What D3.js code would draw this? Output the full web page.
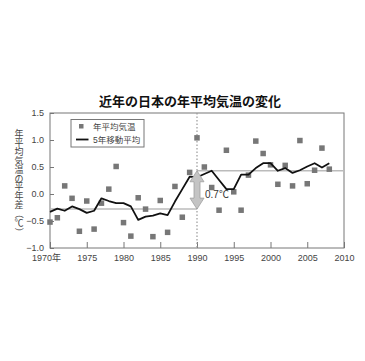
<!DOCTYPE html>
<html>
<head>
<meta charset="utf-8">
<script src="https://cdn.jsdelivr.net/npm/d3@7"></script>
<style>
  body { margin: 0; background: #fff; }
  svg text { font-family: "Liberation Sans", "Noto Sans CJK JP", sans-serif; }
</style>
</head>
<body>
<div id="chart"></div>
<script>
// Annual mean temperature anomaly (degC)
var years = d3.range(1970, 2009)
var anomaly = [-0.52, -0.44, 0.15, -0.08, -0.69, -0.13, -0.65, -0.17, 0.09, 0.51,
  -0.53, -0.78, -0.07, -0.28, -0.79, -0.12, -0.71, 0.14, -0.43, 0.40,
  1.04, 0.50, 0.12, -0.30, 0.81, 0.04, -0.30, 0.35, 0.98, 0.75,
  0.54, 0.18, 0.53, 0.15, 0.99, 0.19, 0.44, 0.85, 0.46]
// 5-year moving average
var movingAvg = [-0.33, -0.27, -0.31, -0.23, -0.28, -0.35, -0.31, -0.08, -0.13, -0.17,
  -0.17, -0.23, -0.48, -0.42, -0.40, -0.36, -0.39, -0.14, 0.09, 0.32,
  0.31, 0.37, 0.43, 0.26, 0.09, 0.09, 0.36, 0.36, 0.48, 0.57,
  0.57, 0.43, 0.48, 0.39, 0.44, 0.51, 0.57, 0.49, 0.57]
// period means before / after 1990
var periodStart = [1970, 1990]
var periodEnd = [1990, 2010]
var periodMean = [-0.28, 0.43]
var splitYear = 1990
var diffLabel = '0.7℃'

var xTicks = d3.range(1970, 2011, 5)
var yTicks = [-1.0, -0.5, 0.0, 0.5, 1.0, 1.5]
var legendLabels = ['年平均気温', '5年移動平均']
var yTitle = '年平均気温の平年差（℃）'

var W = 365, H = 361
var svg = d3.select('#chart').append('svg')
    .attr('width', W)
    .attr('height', H)

var x = d3.scaleLinear().domain([1970, 2010]).range([50, 344])
var y = d3.scaleLinear().domain([-1.0, 1.5]).range([248, 113])

// Title
svg.append('text')
    .attr('x', 190)
    .attr('y', 106)
    .attr('text-anchor', 'middle')
    .attr('font-size', '13px')
    .attr('font-weight', 'bold')
    .attr('fill', '#111')
    .text('近年の日本の年平均気温の変化')

// Y title, stacked vertically one character at a time
var step = 8.9
Array.from(yTitle).forEach(function(c, i){
  var cy = 134 + i * step
  var t = svg.append('text')
      .attr('x', 19)
      .attr('y', cy)
      .attr('text-anchor', 'middle')
      .attr('dominant-baseline', 'central')
      .attr('font-size', '9px')
      .attr('fill', '#444')
      .text(c)
  if (c == '（' || c == '）') t.attr('transform', 'rotate(90,19,' + cy + ')')
})

// Axes
var yAxis = svg.append('g')
    .attr('transform', 'translate(' + x(1970) + ',0)')
    .call(d3.axisLeft(y).tickValues(yTicks).tickSize(-4).tickPadding(6).tickFormat(d3.format('.1f')))
var xAxis = svg.append('g')
    .attr('transform', 'translate(0,' + y(-1.0) + ')')
    .call(d3.axisBottom(x).tickValues(xTicks).tickSize(-6).tickPadding(7)
      .tickFormat(function(d){ return d == 1970 ? d + '年' : d }))
;[xAxis, yAxis].forEach(function(a){
  a.select('.domain').remove()
  a.selectAll('line').attr('stroke', '#777')
  a.selectAll('text')
      .attr('font-size', '9px')
      .attr('fill', '#444')
      .attr('font-family', null)
})
xAxis.selectAll('text').filter(function(d){ return d == 1970 }).attr('dx', -4)

// Frame
svg.append('rect')
    .attr('x', x(1970))
    .attr('y', y(1.5))
    .attr('width', x(2010) - x(1970))
    .attr('height', y(-1.0) - y(1.5))
    .attr('fill', 'none')
    .attr('stroke', '#777')

// Period mean lines
periodMean.forEach(function(m, i){
  svg.append('line')
      .attr('x1', x(periodStart[i]))
      .attr('x2', x(periodEnd[i]))
      .attr('y1', y(m))
      .attr('y2', y(m))
      .attr('stroke', '#bbb')
      .attr('stroke-width', 1.5)
})

// Dotted line at 1990
svg.append('line')
    .attr('x1', x(splitYear))
    .attr('x2', x(splitYear))
    .attr('y1', y(1.5))
    .attr('y2', y(-1.0))
    .attr('stroke', '#999')
    .attr('stroke-width', 1.2)
    .attr('stroke-dasharray', '1.5,2')

// Points
var sq = 5.5
svg.selectAll('rect.pt')
    .data(years)
  .enter().append('rect')
    .attr('class', 'pt')
    .attr('x', function(d){ return x(d) - sq / 2 })
    .attr('y', function(d, i){ return y(anomaly[i]) - sq / 2 })
    .attr('width', sq)
    .attr('height', sq)
    .attr('fill', '#777')

// Moving average line
var line = d3.line()
    .x(function(d){ return x(d) })
    .y(function(d, i){ return y(movingAvg[i]) })
svg.append('path')
    .datum(years)
    .attr('d', line)
    .attr('fill', 'none')
    .attr('stroke', '#111')
    .attr('stroke-width', 1.8)
    .attr('stroke-linejoin', 'round')

// Double arrow between the two period means
var ax = x(splitYear), aTop = y(periodMean[1]), aBot = y(periodMean[0])
var hw = 7, hl = 11, sw = 3
svg.append('path')
    .attr('d', 'M' + ax + ',' + aTop +
      'L' + (ax + hw) + ',' + (aTop + hl) + 'L' + (ax + sw) + ',' + (aTop + hl) +
      'L' + (ax + sw) + ',' + (aBot - hl) + 'L' + (ax + hw) + ',' + (aBot - hl) +
      'L' + ax + ',' + aBot +
      'L' + (ax - hw) + ',' + (aBot - hl) + 'L' + (ax - sw) + ',' + (aBot - hl) +
      'L' + (ax - sw) + ',' + (aTop + hl) + 'L' + (ax - hw) + ',' + (aTop + hl) + 'Z')
    .attr('fill', '#c4c4c4')
    .attr('stroke', '#a0a0a0')
    .attr('stroke-width', 0.8)
svg.append('text')
    .attr('x', ax + 8)
    .attr('y', (aTop + aBot) / 2 + 8)
    .attr('font-size', '10px')
    .attr('fill', '#333')
    .text(diffLabel)

// Legend
var lg = svg.append('g')
lg.append('rect')
    .attr('x', 71).attr('y', 119.5)
    .attr('width', 73).attr('height', 27.5)
    .attr('fill', '#fff')
    .attr('stroke', '#777')
lg.append('rect')
    .attr('x', 79).attr('y', 124)
    .attr('width', 4.5).attr('height', 4.5)
    .attr('fill', '#777')
lg.append('line')
    .attr('x1', 76).attr('x2', 88.5)
    .attr('y1', 139.5).attr('y2', 139.5)
    .attr('stroke', '#111')
    .attr('stroke-width', 1.8)
legendLabels.forEach(function(t, i){
  lg.append('text')
      .attr('x', 93)
      .attr('y', 129.5 + i * 13)
      .attr('font-size', '8.5px')
      .attr('fill', '#444')
      .text(t)
})
</script>
</body>
</html>
